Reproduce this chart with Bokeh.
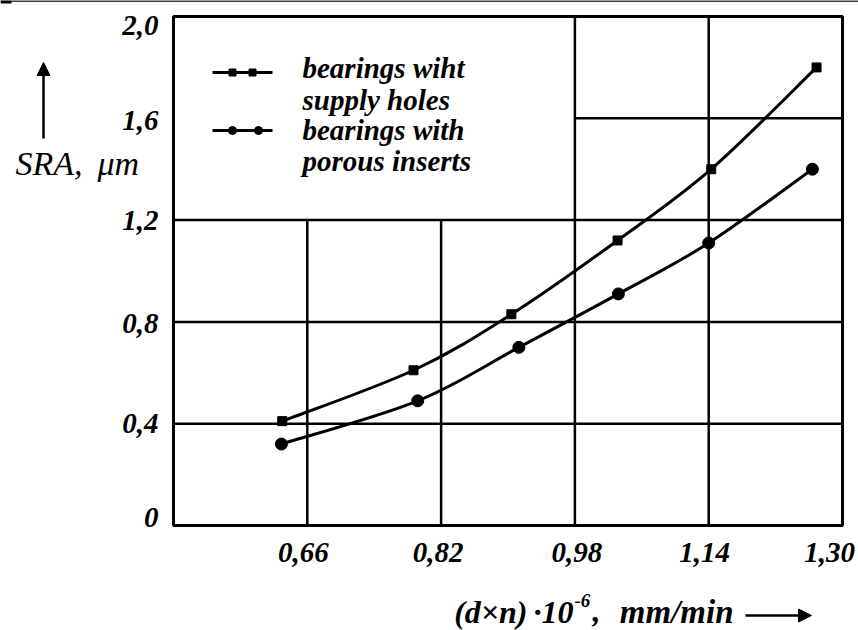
from bokeh.plotting import figure
from bokeh.models import Label, Arrow, NormalHead, Range1d, ColumnDataSource
from bokeh.core.properties import value
from bokeh.embed import file_html
from bokeh.resources import INLINE

# ---- data ----
holes_x = [0.63, 0.787, 0.904, 1.031, 1.143, 1.269]
holes_y = [0.41, 0.61, 0.83, 1.12, 1.40, 1.80]
porous_x = [0.629, 0.792, 0.913, 1.032, 1.140, 1.264]
porous_y = [0.32, 0.49, 0.70, 0.91, 1.11, 1.40]

x_ticks = [0.66, 0.82, 0.98, 1.14, 1.30]
x_labels = ["0,66", "0,82", "0,98", "1,14", "1,30"]
y_ticks = [0, 0.4, 0.8, 1.2, 1.6, 2.0]
y_labels = ["0", "0,4", "0,8", "1,2", "1,6", "2,0"]

legend_labels = [["bearings wiht", "supply holes"], ["bearings with", "porous inserts"]]
y_title = ["SRA,", "\u03bcm"]
x_title = ["(d\u00d7n)", "\u00b710", "-6", ",", "mm/min"]

# axis extent (the plotted frame) and its pixel box on the canvas
X0, X1, Y0, Y1 = 0.5, 1.3, 0.0, 2.0
FL, FR, FT, FB = 173, 842, 16, 525
W, H = 858, 630
FONT = "Liberation Serif"
sx = (X1 - X0) / (FR - FL)
sy = (Y1 - Y0) / (FB - FT)


def px_x(px):  # canvas pixel -> data x
    return X0 + (px - FL) * sx


def px_y(py):  # canvas pixel -> data y
    return Y0 + (FB - py) * sy


p = figure(width=W, height=H, x_range=Range1d(px_x(0), px_x(W)), y_range=Range1d(px_y(H), px_y(0)),
           output_backend="svg", toolbar_location=None,
           min_border=0, min_border_left=0, min_border_right=0, min_border_top=0, min_border_bottom=0)
p.axis.visible = False
p.xgrid.visible = False
p.ygrid.visible = False
p.outline_line_color = None
p.background_fill_color = "white"
p.border_fill_color = "white"

# scan edge line at the very top
p.segment([px_x(0)], [px_y(0.5)], [px_x(W)], [px_y(0.5)], line_color="black", line_width=1.5)
p.segment([px_x(0)], [px_y(1.5)], [px_x(11)], [px_y(1.5)], line_color="black", line_width=3)

# ---- partial grid (legend area left open) ----
gx0, gy0, gx1, gy1 = [], [], [], []
for t in x_ticks[:2]:
    gx0.append(t); gx1.append(t); gy0.append(Y0); gy1.append(y_ticks[3])
for t in x_ticks[2:4]:
    gx0.append(t); gx1.append(t); gy0.append(Y0); gy1.append(Y1)
for t in y_ticks[1:4]:
    gx0.append(X0); gx1.append(X1); gy0.append(t); gy1.append(t)
gx0.append(x_ticks[2]); gx1.append(X1); gy0.append(y_ticks[4]); gy1.append(y_ticks[4])
p.segment(gx0, gy0, gx1, gy1, line_color="black", line_width=2.5)

# frame
p.quad(left=[X0], right=[X1], bottom=[Y0], top=[Y1], fill_color=None,
       line_color="black", line_width=3)

# tick labels
xt = ColumnDataSource(dict(x=x_ticks, y=[Y0] * len(x_ticks), t=x_labels,
                           dx=[-4, -3, 2, -4, -13]))
p.text(x="x", y="y", text="t", source=xt, x_offset="dx", y_offset=17,
       text_font=value(FONT), text_font_style="bold italic", text_font_size="29px",
       text_align="center", text_baseline="top", text_color="black")
yt = ColumnDataSource(dict(x=[X0] * len(y_ticks), y=y_ticks, t=y_labels,
                           dy=[-8, 0, 2, 0, 2, 9]))
p.text(x="x", y="y", text="t", source=yt, x_offset=-15, y_offset="dy",
       text_font=value(FONT), text_font_style="bold italic", text_font_size="29px",
       text_align="right", text_baseline="middle", text_color="black")


# ---- smooth curves (Catmull-Rom as Bezier) ----
def bez(xs, ys):
    n = len(xs)
    out = {k: [] for k in ("x0", "y0", "x1", "y1", "cx0", "cy0", "cx1", "cy1")}
    for i in range(n - 1):
        xm, ym = (xs[i - 1], ys[i - 1]) if i > 0 else (xs[i], ys[i])
        xp, yp = (xs[i + 2], ys[i + 2]) if i + 2 < n else (xs[i + 1], ys[i + 1])
        out["x0"].append(xs[i]); out["y0"].append(ys[i])
        out["x1"].append(xs[i + 1]); out["y1"].append(ys[i + 1])
        out["cx0"].append(xs[i] + (xs[i + 1] - xm) / 6)
        out["cy0"].append(ys[i] + (ys[i + 1] - ym) / 6)
        out["cx1"].append(xs[i + 1] - (xp - xs[i]) / 6)
        out["cy1"].append(ys[i + 1] - (yp - ys[i]) / 6)
    return out


for xs, ys in ((holes_x, holes_y), (porous_x, porous_y)):
    b = bez(xs, ys)
    p.bezier(x0=b["x0"], y0=b["y0"], x1=b["x1"], y1=b["y1"],
             cx0=b["cx0"], cy0=b["cy0"], cx1=b["cx1"], cy1=b["cy1"],
             line_color="black", line_width=3)

p.scatter(holes_x, holes_y, marker="square", size=9, color="black")
p.scatter(porous_x, porous_y, marker="circle", size=12, color="black")

# ---- legend (drawn by hand) ----
for marker, ly, mx, msize in (("square", 72, (232, 252), 7), ("circle", 130, (232, 258), 8)):
    p.line([px_x(212), px_x(272)], [px_y(ly), px_y(ly)], line_color="black", line_width=3)
    p.scatter([px_x(m) for m in mx], [px_y(ly)] * 2, marker=marker, size=msize, color="black")


def lab(x, y, text, size, style, align="left"):
    p.add_layout(Label(x=px_x(x), y=px_y(y), text=text, text_font=FONT,
                       text_font_style=style, text_font_size=size,
                       text_baseline="middle", text_align=align, text_color="black"))


for (l1, l2), (yy1, yy2) in zip(legend_labels, ((67, 99), (129, 160))):
    lab(302, yy1, l1, "29px", "bold italic")
    lab(302, yy2, l2, "29px", "bold italic")

# ---- axis titles and arrows ----
lab(15, 163, y_title[0], "34px", "italic")
lab(97, 163, y_title[1], "34px", "italic")

for txt, ax_, cx, cy, size in zip(x_title, ("right", "right", "left", "left", "right"),
                                  (527, 573, 574, 592, 733), (611, 611, 600, 611, 611),
                                  ("32px", "32px", "19px", "32px", "33px")):
    lab(cx, cy, txt, size, "bold italic", ax_)

p.add_layout(Arrow(x_start=px_x(745), y_start=px_y(615), x_end=px_x(811), y_end=px_y(615),
                   line_width=2.5, line_color="black",
                   end=NormalHead(size=13, fill_color="black", line_color="black")))
p.add_layout(Arrow(x_start=px_x(43), y_start=px_y(138), x_end=px_x(43), y_end=px_y(62),
                   line_width=2.5, line_color="black",
                   end=NormalHead(size=13, fill_color="black", line_color="black")))

open("out.html", "w").write(file_html(p, INLINE))
